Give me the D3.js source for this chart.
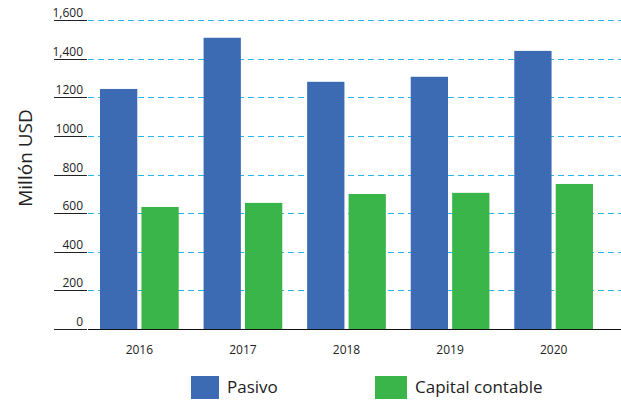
<!DOCTYPE html>
<html>
<head>
<meta charset="utf-8">
<script src="https://cdn.jsdelivr.net/npm/d3@7"></script>
<style>
  body { margin: 0; background: #fff; }
  svg { font-family: "Open Sans", "Noto Sans", sans-serif; }
</style>
</head>
<body>
<svg id="chart" width="621" height="400"></svg>
<script>
// Data
const years = ['2016', '2017', '2018', '2019', '2020'];
const pasivo = [1243, 1508, 1280, 1306, 1440];
const capital = [632, 653, 699, 705, 751];
const yTicks = [0, 200, 400, 600, 800, 1000, 1200, 1400, 1600];
const yTickLabels = ['0', '200', '400', '600', '800', '1000', '1200', '1,400', '1,600'];
const seriesNames = ['Pasivo', 'Capital contable'];
const colors = ['#3d6bb3', '#3ab54a'];

const data = years.map((y, i) => ({ year: y, values: [pasivo[i], capital[i]] }));

const svg = d3.select('#chart');

// Scales
const x = d3.scaleBand()
    .domain(years)
    .range([100, 593])
    .paddingInner(0.24);

const x1 = d3.scaleBand()
    .domain([0, 1])
    .range([0, x.bandwidth()])
    .paddingInner(0.1);

const y = d3.scaleLinear()
    .domain([0, 1600])
    .range([329, 20]);

// Gridlines (dashed light blue)
svg.append('g')
    .selectAll('line')
    .data(yTicks.slice(1))
    .enter()
    .append('line')
    .attr('x1', 88)
    .attr('x2', 621)
    .attr('y1', d => Math.round(y(d)) + 0.5)
    .attr('y2', d => Math.round(y(d)) + 0.5)
    .attr('stroke', '#2bb5ee')
    .attr('stroke-width', 1)
    .attr('stroke-dasharray', '6,4');

// Y tick underlines + labels
const yt = svg.append('g');
yt.selectAll('line')
    .data(yTicks)
    .enter()
    .append('line')
    .attr('x1', 54)
    .attr('x2', 87)
    .attr('y1', d => Math.round(y(d)) + 0.5)
    .attr('y2', d => Math.round(y(d)) + 0.5)
    .attr('stroke', '#222')
    .attr('stroke-width', 1);

yt.selectAll('text')
    .data(yTicks)
    .enter()
    .append('text')
    .attr('x', 83)
    .attr('y', d => y(d) - 3)
    .attr('text-anchor', 'end')
    .style('font-size', '12px')
    .style('fill', '#222')
    .text((d, i) => yTickLabels[i]);

// Bars
const groups = svg.append('g')
    .selectAll('g')
    .data(data)
    .enter()
    .append('g')
    .attr('transform', d => `translate(${x(d.year)},0)`);

groups.selectAll('rect')
    .data(d => d.values.map((v, i) => ({ i, v })))
    .enter()
    .append('rect')
    .attr('x', d => x1(d.i))
    .attr('y', d => y(d.v))
    .attr('width', x1.bandwidth())
    .attr('height', d => y(0) - y(d.v))
    .attr('fill', d => colors[d.i]);

// X axis line
svg.append('line')
    .attr('x1', 88)
    .attr('x2', 621)
    .attr('y1', Math.round(y(0)) + 0.5)
    .attr('y2', Math.round(y(0)) + 0.5)
    .attr('stroke', '#111')
    .attr('stroke-width', 1.2);

// X labels
svg.append('g')
    .selectAll('text')
    .data(years)
    .enter()
    .append('text')
    .attr('x', d => x(d) + x.bandwidth() / 2)
    .attr('y', 354)
    .attr('text-anchor', 'middle')
    .style('font-size', '12px')
    .style('fill', '#222')
    .text(d => d);

// Y axis title
svg.append('text')
    .attr('transform', 'rotate(-90)')
    .attr('x', -158)
    .attr('y', 32)
    .attr('text-anchor', 'middle')
    .style('font-size', '19px')
    .style('fill', '#222')
    .text('Millón USD');

// Legend
const legendX = [191, 375];
const legend = svg.append('g')
    .selectAll('g')
    .data(seriesNames)
    .enter()
    .append('g')
    .attr('transform', (d, i) => `translate(${legendX[i]},376)`);

legend.append('rect')
    .attr('width', (d, i) => i === 0 ? 28 : 32)
    .attr('height', 23)
    .attr('fill', (d, i) => colors[i]);

legend.append('text')
    .attr('x', (d, i) => i === 0 ? 36 : 40)
    .attr('y', 17)
    .style('font-size', '17px')
    .style('fill', '#222')
    .text(d => d);
</script>
</body>
</html>
